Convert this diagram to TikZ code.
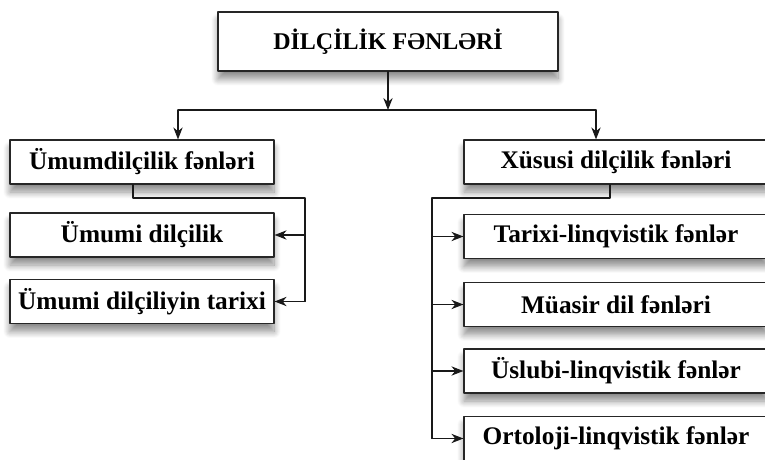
\documentclass[tikz,border=0pt]{standalone}
\usepackage{fontspec}
\setmainfont{Liberation Serif}
\usetikzlibrary{arrows.meta,shadows.blur}

\tikzset{
    fenbox/.style={draw=black!85,line width=0.9pt,fill=white,
        minimum height=44*0.75pt,inner sep=0pt,
        font=\bfseries\fontsize{19}{22}\selectfont,
        blur shadow={shadow xshift=0pt,shadow yshift=-6pt,
            shadow blur radius=5pt,shadow blur steps=10,shadow opacity=45}},
    leftbox/.style={fenbox,minimum width=264*0.75pt},
    rightbox/.style={fenbox,minimum width=304*0.75pt},
    link/.style={line width=0.8pt,color=black!90},
    arrowlink/.style={link,-{Stealth[length=9pt,width=7pt]}}
}

\begin{document}
\begin{tikzpicture}[line cap=round,line join=round,x=0.75pt,y=-0.75pt]
    \useasboundingbox (0,0) rectangle (765,460);
    \clip (0,0) rectangle (765,460);
    % boxes
    \node[fenbox,minimum width=340*0.75pt,minimum height=59*0.75pt,
        font=\bfseries\fontsize{18}{21}\selectfont] (root) at (388,41.5) {DİLÇİLİK FƏNLƏRİ};
    \node[leftbox] (umum) at (142,162) {Ümumdilçilik fənləri};
    \node[leftbox] (dil) at (142,235) {Ümumi dilçilik};
    \node[leftbox] (tarix) at (142,301.5) {Ümumi dilçiliyin tarixi};
    \node[rightbox] (xusus) at (616,162) {Xüsusi dilçilik fənləri};
    \node[rightbox] (tarixi) at (616,236.5) {Tarixi-linqvistik fənlər};
    \node[rightbox] (muasir) at (616,304.5) {Müasir dil fənləri};
    \node[rightbox] (uslub) at (616,371) {Üslubi-linqvistik fənlər};
    \node[rightbox] (orto) at (616,438.5) {Ortoloji-linqvistik fənlər};
    % connectors
    \coordinate (split) at (388,110);
    \coordinate (lsplit) at (178,110);
    \coordinate (rsplit) at (596,110);
    \draw[arrowlink] (root.south) -- (split);
    \draw[link] (lsplit) -- (rsplit);
    \draw[arrowlink] (lsplit) -- (lsplit |- umum.north);
    \draw[arrowlink] (rsplit) -- (rsplit |- xusus.north);
    \coordinate (lfork) at (133,198);
    \coordinate (lbus) at (305,198);
    \draw[link] (lfork |- umum.south) -- (lfork) -- (lbus) -- (lbus |- tarix.east);
    \foreach \n in {dil,tarix}
    \draw[arrowlink] (lbus |- \n.east) -- (\n.east);
    \coordinate (rfork) at (610,198);
    \coordinate (rbus) at (432,198);
    \draw[link] (rfork |- xusus.south) -- (rfork) -- (rbus) -- (rbus |- orto.west);
    \foreach \n in {tarixi,muasir,uslub,orto}
    \draw[arrowlink] (rbus |- \n.west) -- (\n.west);
\end{tikzpicture}
\end{document}
